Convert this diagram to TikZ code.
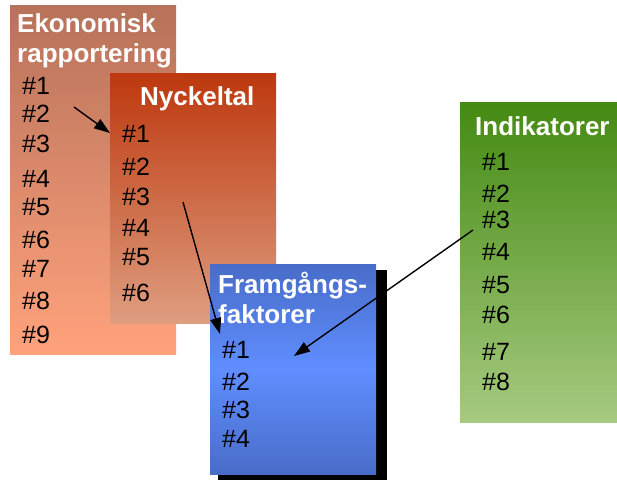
\documentclass[tikz,border=0pt]{standalone}
\usepackage{fontspec}
\setmainfont{Liberation Sans}
\usetikzlibrary{positioning,arrows.meta,calc}

\definecolor{ekotop}{RGB}{183,114,90}
\definecolor{ekobot}{RGB}{255,162,124}
\definecolor{nyctop}{RGB}{189,56,14}
\definecolor{nycbot}{RGB}{222,158,128}
\definecolor{frmedge}{RGB}{72,108,200}
\definecolor{frmmid}{RGB}{96,142,255}
\definecolor{indtop}{RGB}{68,138,18}
\definecolor{indbot}{RGB}{166,202,128}

\begin{document}
\begin{tikzpicture}[
    x=1pt,y=-1pt,
    box/.style={rectangle,inner sep=0pt,anchor=north west},
    title/.style={anchor=base west,inner sep=0pt,text=white,font=\bfseries\fontsize{26}{30}\selectfont},
    item/.style={anchor=base west,inner sep=0pt,font=\fontsize{25}{28}\selectfont},
    link/.style={-{Triangle[length=16pt,width=11pt]},line width=1.4pt}]
    \useasboundingbox (0,0) rectangle (617,480);

    % boxes
    \node[box,minimum width=166pt,minimum height=349pt,top color=ekotop,bottom color=ekobot] (Eko) at (10,5) {};
    \node[box,minimum width=166pt,minimum height=250pt,top color=nyctop,bottom color=nycbot] (Nyc) at (110,73) {};
    \node[box,minimum width=169pt,minimum height=210pt,fill=black] (Shadow) at (218,270) {};
    \node[box,minimum width=166pt,minimum height=210pt,top color=frmedge,bottom color=frmedge,middle color=frmmid] (Frm) at (210,264) {};
    \node[box,minimum width=160pt,minimum height=320pt,top color=indtop,bottom color=indbot] (Ind) at (460,102) {};

    % titles
    \node[title] (EkoT1) at (17,32) {Ekonomisk};
    \node[title] (EkoT2) at (17,62) {rapportering};
    \node[title] (NycT) at (140,105) {Nyckeltal};
    \node[title] (FrmT1) at (218,293) {Framgångs-};
    \node[title] (FrmT2) at (218,323) {faktorer};
    \node[title] (IndT) at (475,135) {Indikatorer};

    % items
    \foreach \y [count=\i] in {94,122,152,187,215,248,277,309,343}
      \node[item] (Eko\i) at (22,\y) {\#\i};
    \foreach \y [count=\i] in {142,175,205,236,265,301}
      \node[item] (Nyc\i) at (122,\y) {\#\i};
    \foreach \y [count=\i] in {358,390,418,447}
      \node[item] (Frm\i) at (222,\y) {\#\i};
    \foreach \y [count=\i] in {170,202,228,260,293,323,360,390}
      \node[item] (Ind\i) at (482,\y) {\#\i};

    % links
    \coordinate (A1s) at (74,107);
    \coordinate (A1e) at (110,133);
    \coordinate (A2s) at (183,202);
    \coordinate (A2e) at (220,334);
    \coordinate (A3s) at (473,230);
    \coordinate (A3e) at (294,356);
    \draw[link] (A1s) -- (A1e);
    \draw[link] (A2s) -- (A2e);
    \draw[link] (A3s) -- (A3e);
\end{tikzpicture}
\end{document}
